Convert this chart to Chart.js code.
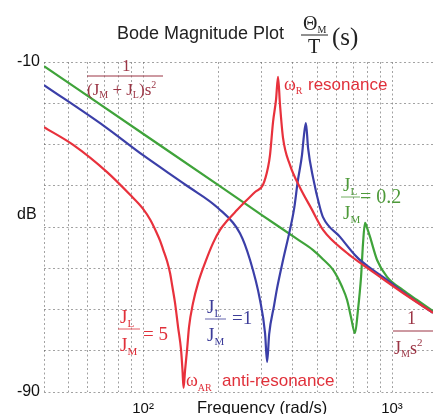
<!DOCTYPE html>
<html>
<head>
<meta charset="utf-8">
<script src="https://cdn.jsdelivr.net/npm/chart.js@4.4.1/dist/chart.umd.min.js"></script>
<style>
  html, body { margin: 0; padding: 0; background: #fff; }
  #wrap { width: 433px; height: 414px; }
</style>
</head>
<body>
<div id="wrap"><canvas id="bode" width="433" height="414"></canvas></div>
<script>
// frequency in rad/s, magnitude in dB

// J_L / J_M = 5
const redFreq = [40, 52.4, 71.7, 88.7, 100, 107, 113, 117, 120.3, 124.9, 128.4, 131, 134.4, 138.2, 142.1, 144, 145.4,
  147.5, 150.2, 153, 158.8, 166.3, 177.4, 191, 203.8, 217.5, 238.5, 256.8, 281.8, 303, 317.7, 323.6, 332.8, 342, 348.4,
  354.9, 364.9, 389.4, 427.2, 475, 528.4, 659.7, 764.7, 894.8, 1107, 1461];
const redDb = [-25.8, -30.1, -36.7, -42.2, -45.6, -48.3, -51.2, -53.3, -55.4, -58.3, -61.2, -64.3, -68.4, -74.2, -79.8, -84.7, -89.0,
  -84.7, -79.8, -74.2, -68.4, -63.6, -58.7, -53.9, -50.7, -48.5, -45.9, -43.9, -41.5, -39.8, -35.5, -32.5, -24.5, -19.2, -13.6,
  -20.4, -28.4, -35.0, -40.5, -45.6, -50.7, -56.3, -59.2, -62.1, -66.0, -70.8];

// J_L / J_M = 1
const blueFreq = [40, 70, 100, 150, 200, 245, 269, 295, 309, 315, 321, 336, 345, 365, 389, 405, 418, 435, 443, 451,
  460, 482, 514, 528, 618, 723, 816, 955, 1107, 1260, 1461];
const blueDb = [-15.6, -25.6, -32.6, -40.0, -45.4, -51.5, -58.0, -67.7, -75.7, -82.7, -76.0, -69.0, -65.0, -58.0, -50.7, -45.3, -39.0, -32.5, -27.7, -24.8,
  -30.8, -38.1, -45.4, -47.6, -52.4, -57.3, -59.9, -62.8, -65.8, -68.2, -70.8];

// J_L / J_M = 0.2
const greenFreq = [40, 100, 200, 300, 415, 482, 528, 580, 630, 660, 684, 710, 730, 751, 765, 779, 794, 816, 871, 955, 1107, 1260, 1461];
const greenDb = [-11.0, -27.4, -39.8, -47.1, -52.9, -55.6, -57.8, -60.4, -64.5, -67.7, -71.8, -75.7, -70.1, -62.1, -53.9, -49.0, -50.2, -52.4, -58.0, -62.1, -65.3, -67.7, -70.4];

const xGrid = [40, 50, 60, 70, 80, 90, 100, 200, 300, 400, 500, 600, 700, 800, 900, 1000];
const xLabels = { 100: '10²', 1000: '10³' };
const yGrid = [-10, -20, -30, -40, -50, -60, -70, -80, -90];
const yLabels = { '-10': '-10', '-90': '-90' };

const SERIF = '"Liberation Serif", "DejaVu Serif", serif';
const SANS = '"Liberation Sans", Arial, sans-serif';

const toPoints = (fs, dbs) => fs.map((f, i) => ({ x: f, y: dbs[i] }));

// draws a row of text pieces: [text, size, dy, family]
function put(ctx, parts, x, y, color) {
  ctx.fillStyle = color;
  ctx.textAlign = 'left';
  ctx.textBaseline = 'alphabetic';
  let cx = x;
  for (const [t, size, dy, fam] of parts) {
    ctx.font = size + 'px ' + fam;
    ctx.fillText(t, cx, y + dy);
    cx += ctx.measureText(t).width;
  }
  return cx;
}

function bar(ctx, x1, x2, y, color, w) {
  ctx.strokeStyle = color;
  ctx.lineWidth = w || 1;
  ctx.beginPath();
  ctx.moveTo(x1, y);
  ctx.lineTo(x2, y);
  ctx.stroke();
}

const textPlugin = {
  id: 'bodeText',
  afterDraw(chart) {
    const ctx = chart.ctx;
    ctx.save();

    // title
    put(ctx, [['Bode Magnitude Plot', 18, 0, SANS]], 117, 39, '#222');
    put(ctx, [['Θ', 20, 0, SERIF], ['M', 10, 3, SERIF]], 303, 30, '#222');
    bar(ctx, 301, 328, 35, '#222', 1);
    put(ctx, [['T', 20, 0, SERIF]], 308, 53, '#222');
    put(ctx, [['(s)', 25, 0, SERIF]], 332, 45, '#222');

    // axis words
    put(ctx, [['dB', 16, 0, SANS]], 17, 219, '#111');
    put(ctx, [['Frequency (rad/s)', 16.5, 0, SANS]], 197, 413, '#111');

    // low-frequency asymptote
    const maroon = '#9b3545';
    put(ctx, [['1', 17, 0, SERIF]], 122, 71, maroon);
    bar(ctx, 87, 163, 76, maroon, 1);
    put(ctx, [['(J', 17, 0, SERIF], ['M', 10, 3, SERIF], [' + J', 17, 0, SERIF], ['L', 10, 3, SERIF],
      [')s', 17, 0, SERIF], ['2', 10, -7, SERIF]], 87, 95, maroon);

    // resonance
    const red = '#e0303a';
    put(ctx, [['ω', 18, 0, SERIF], ['R', 10, 4, SERIF]], 284, 90, red);
    put(ctx, [['resonance', 17, 0, SANS]], 308, 90, red);

    // anti-resonance
    put(ctx, [['ω', 18, 0, SERIF], ['AR', 10, 5, SERIF]], 186, 386, red);
    put(ctx, [['anti-resonance', 17, 0, SANS]], 222, 386, red);

    // ratio 0.2
    const green = '#4e9a3a';
    put(ctx, [['J', 19, 0, SERIF], ['L', 11, 4, SERIF]], 343, 191, green);
    bar(ctx, 341, 360, 197, green, 0.8);
    put(ctx, [['J', 19, 0, SERIF], ['M', 11, 4, SERIF]], 343, 219, green);
    put(ctx, [['= 0.2', 20, 0, SERIF]], 360, 203, green);

    // ratio 5
    put(ctx, [['J', 19, 0, SERIF], ['L', 11, 4, SERIF]], 120, 323, red);
    bar(ctx, 118, 140, 329, red, 0.8);
    put(ctx, [['J', 19, 0, SERIF], ['M', 11, 4, SERIF]], 120, 351, red);
    put(ctx, [['= 5', 19, 0, SERIF]], 143, 340, red);

    // ratio 1
    const blue = '#3d3d99';
    put(ctx, [['J', 19, 0, SERIF], ['L', 11, 4, SERIF]], 207, 313, blue);
    bar(ctx, 205, 226, 319, blue, 0.8);
    put(ctx, [['J', 19, 0, SERIF], ['M', 11, 4, SERIF]], 207, 341, blue);
    put(ctx, [['=1', 19, 0, SERIF]], 232, 324, blue);

    // high-frequency asymptote
    put(ctx, [['1', 18, 0, SERIF]], 407, 324, maroon);
    bar(ctx, 393, 433, 331, maroon, 1);
    put(ctx, [['J', 18, 0, SERIF], ['M', 10, 3, SERIF], ['s', 18, 0, SERIF], ['2', 11, -8, SERIF]], 394, 354, maroon);

    ctx.restore();
  }
};

const gridStyle = { color: 'rgba(100,100,100,0.6)', lineWidth: 1, drawTicks: false };
const borderStyle = { display: false, dash: [2, 2.5] };

new Chart(document.getElementById('bode'), {
  type: 'line',
  data: {
    datasets: [
      { label: 'J_L/J_M = 5', data: toPoints(redFreq, redDb), borderColor: '#e8313c' },
      { label: 'J_L/J_M = 1', data: toPoints(blueFreq, blueDb), borderColor: '#3b3fa8' },
      { label: 'J_L/J_M = 0.2', data: toPoints(greenFreq, greenDb), borderColor: '#3fa33a' },
    ]
  },
  options: {
    responsive: false,
    animation: false,
    devicePixelRatio: 1,
    layout: { padding: { top: 62, left: 0, right: 0, bottom: 0 } },
    datasets: {
      line: { borderWidth: 2.2, pointRadius: 0, cubicInterpolationMode: 'monotone', fill: false }
    },
    plugins: { legend: { display: false }, tooltip: { enabled: false } },
    scales: {
      x: {
        type: 'logarithmic',
        min: 40,
        max: 1461,
        grid: gridStyle,
        border: borderStyle,
        afterBuildTicks: (s) => { s.ticks = xGrid.map(v => ({ value: v })); },
        afterFit: (s) => { s.height = 22; },
        ticks: {
          autoSkip: false,
          maxRotation: 0,
          padding: 8,
          color: '#111',
          font: { family: 'Liberation Sans', size: 15 },
          callback: (v) => xLabels[v] || ''
        }
      },
      y: {
        min: -90,
        max: -10,
        grid: gridStyle,
        border: borderStyle,
        afterBuildTicks: (s) => { s.ticks = yGrid.map(v => ({ value: v })); },
        afterFit: (s) => { s.width = 44; },
        ticks: {
          autoSkip: false,
          padding: 4,
          color: '#111',
          font: { family: 'Liberation Sans', size: 16 },
          callback: (v) => yLabels[String(v)] || ''
        }
      }
    }
  },
  plugins: [textPlugin]
});
</script>
</body>
</html>
